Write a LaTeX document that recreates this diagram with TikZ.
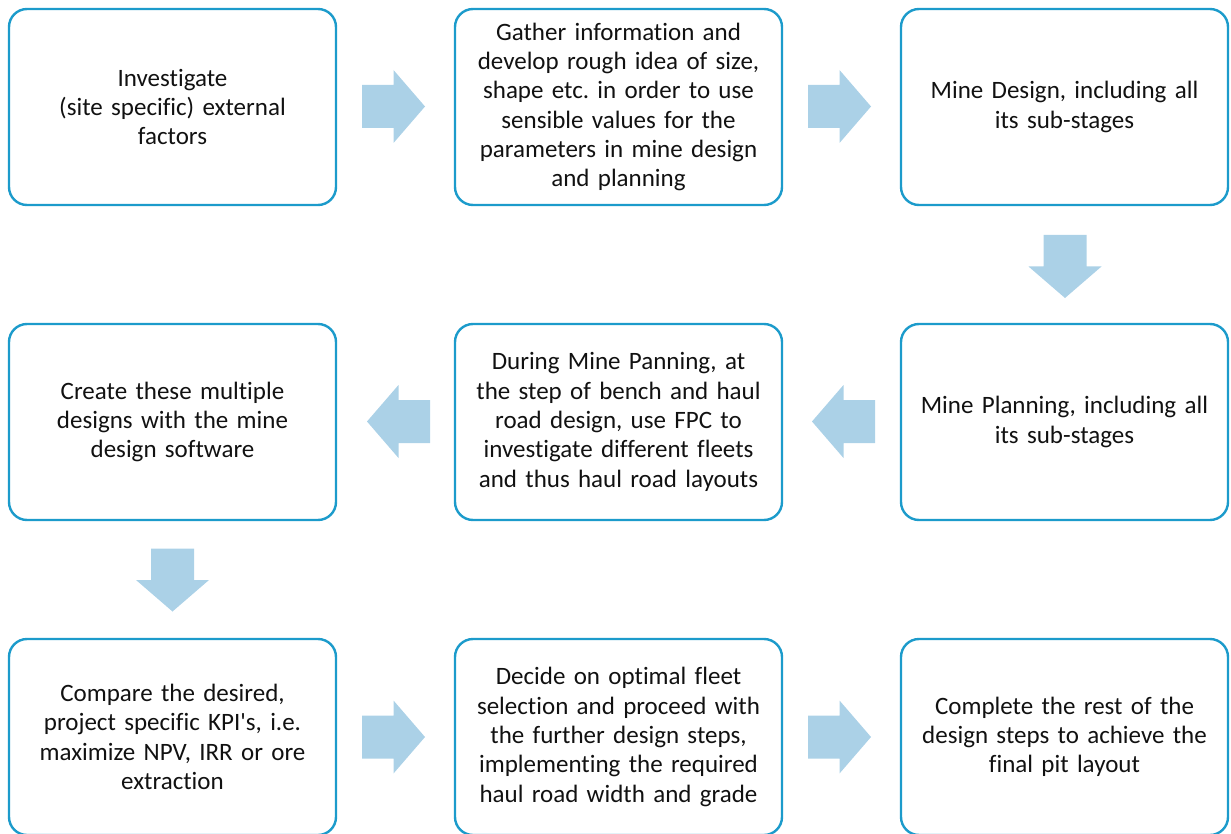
\documentclass[tikz,border=0pt]{standalone}
\usepackage{fontspec}
\setmainfont{Carlito}[Ligatures={NoCommon}]
\usetikzlibrary{calc}
\definecolor{boxline}{HTML}{1C9BCB}
\definecolor{arrowfill}{HTML}{ABD1E7}
\definecolor{ink}{HTML}{111111}
\tikzset{
  stepbox/.style={draw=boxline, line width=2.4pt, rounded corners=18pt,
    minimum width=327pt, minimum height=196pt, inner sep=0pt,
    text width=315pt, align=center, text=ink,
    font=\fontsize{25}{29.3}\selectfont},
  blockarrow/.style={fill=arrowfill, draw=none}
}
% block arrow pointing right, centred on #1, turned by #2 degrees
\newcommand\flowarrow[2]{%
  \fill[blockarrow, shift={(#1)}, rotate=#2]
    (-31.5,-21.5) -- (0,-21.5) -- (0,-36.5) -- (31.5,0) -- (0,36.5)
    -- (0,21.5) -- (-31.5,21.5) -- cycle;}
\frenchspacing
\begin{document}
\begin{tikzpicture}[x=1pt, y=1pt]
\useasboundingbox (0,0) rectangle (1231,-834);
\begin{scope}
\clip (0,0) rectangle (1231,-834);
% first row
\node[stepbox] (s1) at (172.5,-107) {Investigate\\(site specific) external\\factors};
\node[stepbox] (s2) at (618.5,-107) {Gather information and\\develop rough idea of size,\\shape etc. in order to use\\sensible values for the\\parameters in mine design\\and planning};
\node[stepbox] (s3) at (1064.5,-107) {Mine Design, including all\\its sub-stages};
% second row
\node[stepbox] (s4) at (1064.5,-422) {Mine Planning, including all\\its sub-stages};
\node[stepbox] (s5) at (618.5,-422) {During Mine Panning, at\\the step of bench and haul\\road design, use FPC to\\investigate different fleets\\and thus haul road layouts};
\node[stepbox] (s6) at (172.5,-422) {Create these multiple\\designs with the mine\\design software};
% third row
\node[stepbox] (s7) at (172.5,-737) {Compare the desired,\\project specific KPI\textquotesingle s, i.e.\\maximize NPV, IRR or ore\\extraction};
\node[stepbox] (s8) at (618.5,-737) {Decide on optimal fleet\\selection and proceed with\\the further design steps,\\implementing the required\\haul road width and grade};
\node[stepbox] (s9) at (1064.5,-737) {Complete the rest of the\\design steps to achieve the\\final pit layout};
\end{scope}
% arrows between the steps
\coordinate (a12) at ($($(s1.east)!0.5!(s2.west)$)+(-2,0.5)$);
\coordinate (a23) at ($($(s2.east)!0.5!(s3.west)$)+(-2,0.5)$);
\coordinate (a34) at ($($(s3.south)!0.5!(s4.north)$)+(0.5,-2)$);
\coordinate (a45) at ($($(s4.west)!0.5!(s5.east)$)+(2,0.5)$);
\coordinate (a56) at ($($(s5.west)!0.5!(s6.east)$)+(3,0.5)$);
\coordinate (a67) at ($($(s6.south)!0.5!(s7.north)$)+(0,-0.5)$);
\coordinate (a78) at ($($(s7.east)!0.5!(s8.west)$)+(-2,0)$);
\coordinate (a89) at ($($(s8.east)!0.5!(s9.west)$)+(-2,0)$);
\flowarrow{a12}{0}
\flowarrow{a23}{0}
\flowarrow{a34}{-90}
\flowarrow{a45}{180}
\flowarrow{a56}{180}
\flowarrow{a67}{-90}
\flowarrow{a78}{0}
\flowarrow{a89}{0}
\end{tikzpicture}
\end{document}
